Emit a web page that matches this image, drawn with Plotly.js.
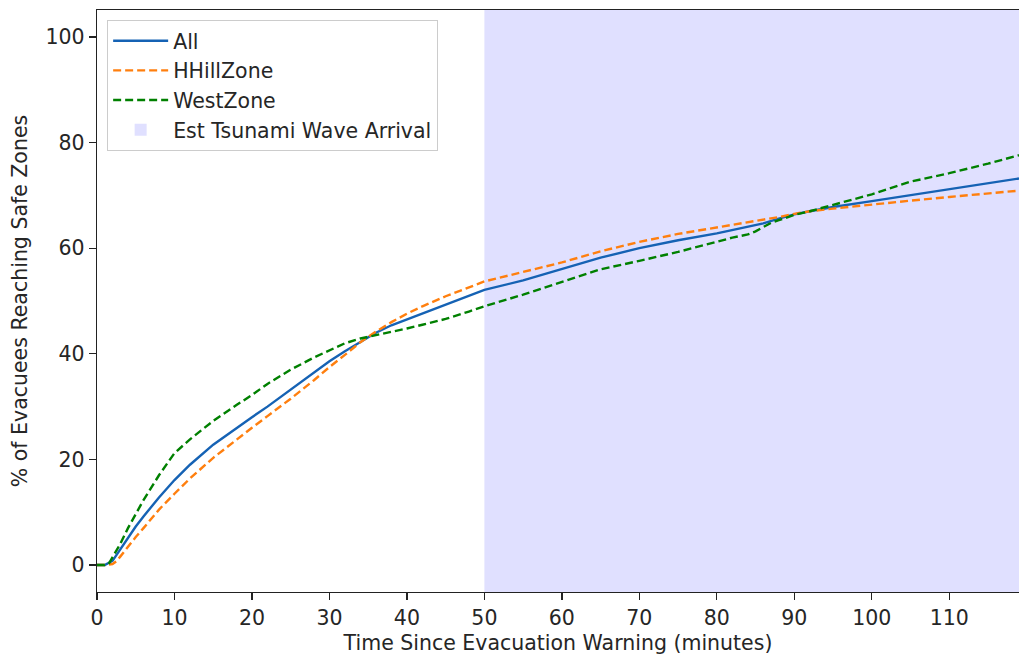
<!DOCTYPE html>
<html>
<head>
<meta charset="utf-8">
<script src="https://cdn.plot.ly/plotly-3.0.1.min.js"></script>
<style>html,body{margin:0;padding:0;background:#fff;}#chart{width:1019px;height:655px;}</style>
</head>
<body>
<div id="chart"></div>
<script>
// Time since evacuation warning (minutes)
const allX = [0,1,2,3,4,5,6,8,10,12,15,18,20,22,25,28,30,32,34,36,38,40,42,45,48,50,55,60,65,70,75,80,82,84,86,88,90,92,95,100,105,110,115,119];
const allY = [0,0,0.8,3,5.2,7.3,9.2,12.8,16.1,19.0,22.8,26.0,28.0,30.0,33.2,36.3,38.6,40.5,42.3,44.0,45.4,46.5,47.6,49.3,50.9,52.1,53.9,56.0,58.2,60.0,61.5,62.8,63.4,64.0,64.7,65.6,66.4,67.0,67.8,68.9,70.0,71.2,72.3,73.2];

const hhillX = [0,1,2,2.5,3,4,5,6,8,10,12,15,18,20,22,25,28,30,32,34,36,38,40,42,45,48,50,55,60,65,70,75,80,82,84,86,88,90,92,95,100,105,110,115,119];
const hhillY = [0,0,0.2,0.7,1.6,3.5,5.3,7.0,10.5,13.5,16.4,20.3,23.8,26.0,28.2,31.5,35.0,37.5,39.8,42.2,44.2,46.0,47.6,49.0,50.9,52.6,53.7,55.5,57.3,59.4,61.2,62.7,63.9,64.4,64.8,65.3,65.9,66.5,67.0,67.5,68.3,69.0,69.7,70.4,70.9];

const westX = [0,1,1.5,2,3,4,5,6,8,10,12,15,18,20,22,25,28,30,32,34,36,38,40,42,45,48,50,55,60,65,70,75,80,82,84,85,86,87,88,90,92,95,100,105,110,115,119];
const westY = [0,0,0.2,1.5,4.0,7.0,9.8,12.3,17.0,21.2,23.8,27.3,30.3,32.2,34.3,37.0,39.3,40.7,42.0,42.9,43.5,44.2,44.8,45.5,46.6,48.0,49.0,51.2,53.6,56.0,57.6,59.3,61.2,62.0,62.6,63.2,64.0,64.8,65.3,66.3,67.0,68.2,70.2,72.6,74.2,76.0,77.6];

const seriesNames = ["All", "HHillZone", "WestZone"];
const spanName = "Est Tsunami Wave Arrival";
const waveArrival = 50;     // minutes
const xMax = 119;
const yRange = [-5.1, 105.1];
const xTicks = [0,10,20,30,40,50,60,70,80,90,100,110];
const yTicks = [0,20,40,60,80,100];

const font = {family: "DejaVu Sans, sans-serif", size: 20.5, color: "#262626"};

const traces = [
  {x: allX, y: allY, name: seriesNames[0], type: "scatter", mode: "lines",
   line: {color: "#1562b4", width: 2.4}, legendrank: 1},
  {x: hhillX, y: hhillY, name: seriesNames[1], type: "scatter", mode: "lines",
   line: {color: "#ff7f0e", width: 2.4, dash: "8px,4px"}, legendrank: 2},
  {x: westX, y: westY, name: seriesNames[2], type: "scatter", mode: "lines",
   line: {color: "#008000", width: 2.4, dash: "8px,4px"}, legendrank: 3}
];

const layout = {
  width: 1019, height: 655,
  margin: {l: 97, r: 0, t: 10, b: 63},
  paper_bgcolor: "#fff", plot_bgcolor: "#fff",
  font: font,
  showlegend: true,
  legend: {x: 0.011, y: 0.983, xanchor: "left", yanchor: "top",
           bgcolor: "rgba(255,255,255,0.9)", bordercolor: "#cccccc", borderwidth: 1,
           font: font, tracegroupgap: 0, itemwidth: 55},
  xaxis: {range: [0, xMax], tickvals: xTicks, ticktext: xTicks.map(String),
          showgrid: false, zeroline: false, showline: true, linecolor: "#222", linewidth: 1.3,
          mirror: true, ticks: "outside", ticklen: 7, tickwidth: 1.3, tickcolor: "#222",
          tickfont: font,
          title: {text: "Time Since Evacuation Warning (minutes)", font: font, standoff: 6}},
  yaxis: {range: yRange, tickvals: yTicks, ticktext: yTicks.map(String),
          showgrid: false, zeroline: false, showline: true, linecolor: "#222", linewidth: 1.3,
          mirror: false, ticks: "outside", ticklen: 7, tickwidth: 1.3, tickcolor: "#222",
          tickfont: font,
          title: {text: "% of Evacuees Reaching Safe Zones", font: font, standoff: 12}},
  shapes: [
    {type: "rect", xref: "x", yref: "paper", x0: waveArrival, x1: xMax, y0: 0, y1: 1,
     fillcolor: "rgb(224,224,255)", line: {width: 0}, layer: "below",
     showlegend: true, name: spanName, legendrank: 4}
  ]
};

Plotly.newPlot("chart", traces, layout, {displayModeBar: false, staticPlot: true});
</script>
</body>
</html>
